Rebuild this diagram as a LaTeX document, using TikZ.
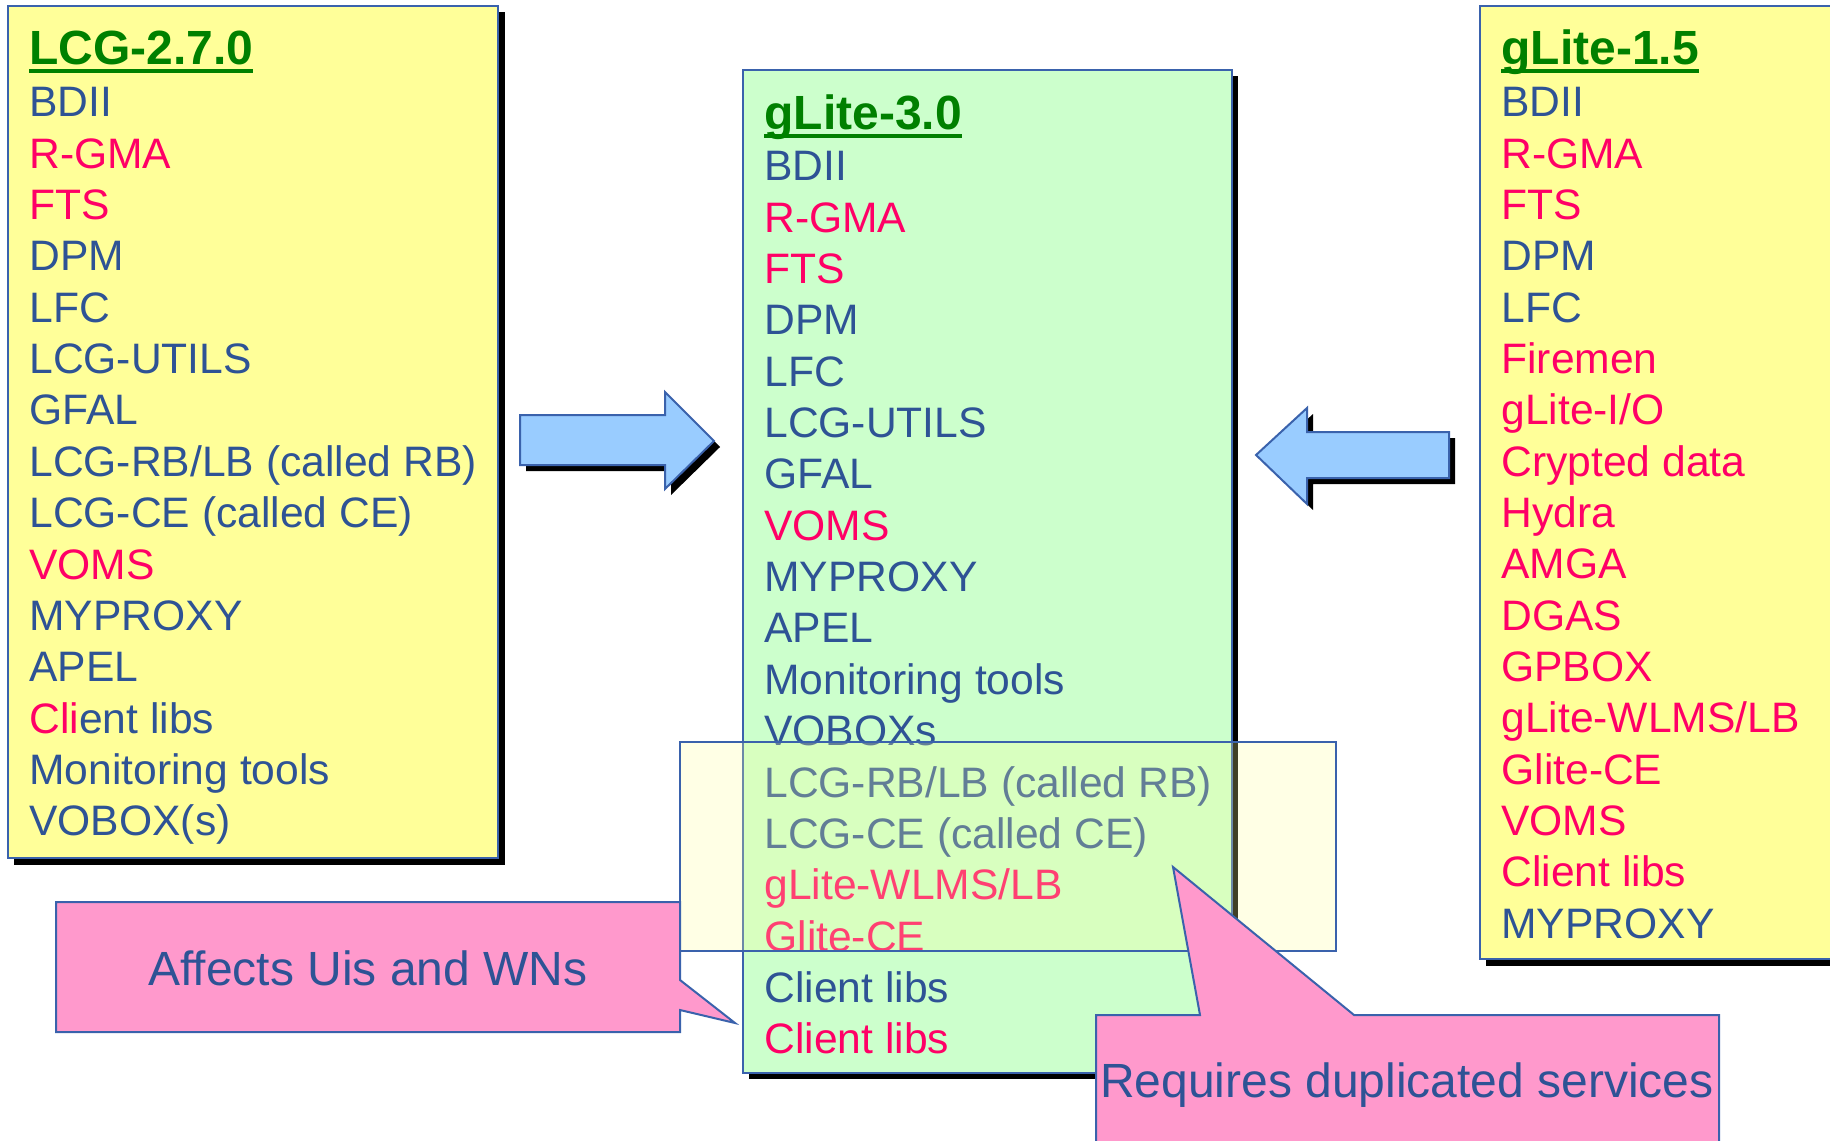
\documentclass[tikz,border=0pt]{standalone}
\usepackage{fontspec}
\setmainfont{Liberation Sans}
\usepackage{xcolor}
\usepackage{tikz}
\definecolor{boxyellow}{HTML}{FFFF99}
\definecolor{boxgreen}{HTML}{CCFFCC}
\definecolor{srvblue}{HTML}{2E5395}
\definecolor{srvred}{HTML}{FF0066}
\definecolor{ttlgreen}{HTML}{008000}
\definecolor{edgeblue}{HTML}{3A62AC}
\definecolor{arrowblue}{HTML}{99CCFF}
\definecolor{notepink}{HTML}{FF99CC}
\newcommand\rd[1]{\textcolor{srvred}{#1}}
\newcommand\ttl[1]{\setbox0\hbox{#1}\rlap{\rule[-4.5pt]{\wd0}{2pt}}\box0}
\tikzstyle{panel}=[draw=edgeblue,line width=1pt]
\tikzstyle{shade}=[fill=black]
\tikzstyle{title}=[anchor=base west,inner sep=0pt,text=ttlgreen,font=\fontsize{24pt}{28pt}\selectfont\bfseries]
% base of a list node = baseline of its last line
\tikzstyle{list}=[anchor=base west,inner sep=0pt,align=left,text=srvblue,font=\fontsize{21.3pt}{25.67pt}\selectfont]
\tikzstyle{fat}=[draw=edgeblue,line width=1pt,fill=arrowblue]
\tikzstyle{note}=[draw=edgeblue,line width=1pt,fill=notepink]
\tikzstyle{notetext}=[inner sep=0pt,text=srvblue,font=\fontsize{24pt}{28pt}\selectfont]

\begin{document}
\begin{tikzpicture}[x=0.5pt,y=-0.5pt]
	\clip (0,0) rectangle (1830,1140);
	% the three releases
	\fill[shade] (14,12) rectangle (505,865);
	\draw[panel,fill=boxyellow] (8,6) rectangle (498,858);
	\fill[shade] (1486,12) rectangle (1840,966);
	\draw[panel,fill=boxyellow] (1480,6) rectangle (1840,959);
	\node[title] (lcgt) at (29,64) {\ttl{LCG-2.7.0}};
	\node[list] (lcg) at (29,835.7) {BDII\\ \rd{R-GMA}\\ \rd{FTS}\\ DPM\\ LFC\\ LCG-UTILS\\ GFAL\\
		LCG-RB/LB (called RB)\\ LCG-CE (called CE)\\ \rd{VOMS}\\ MYPROXY\\ APEL\\
		\rd{Cli}ent libs\\ Monitoring tools\\ VOBOX(s)};
	\node[title] (g15t) at (1501,64) {\ttl{gLite-1.5}};
	\node[list] (g15) at (1501,938.3) {BDII\\ \rd{R-GMA}\\ \rd{FTS}\\ DPM\\ LFC\\ \rd{Firemen}\\
		\rd{gLite-I/O}\\ \rd{Crypted data}\\ \rd{Hydra}\\ \rd{AMGA}\\ \rd{DGAS}\\ \rd{GPBOX}\\
		\rd{gLite-WLMS/LB}\\ \rd{Glite-CE}\\ \rd{VOMS}\\ \rd{Client libs}\\ MYPROXY};
	% arrows
	\fill[shade] (526,421) -- (671,421) -- (671,398) -- (720,447) -- (671,495) -- (671,471) -- (526,471) -- cycle;
	\draw[fat] (520,415) -- (665,415) -- (665,392) -- (714,441) -- (665,489) -- (665,465) -- (520,465) -- cycle;
	\fill[shade] (1262,461) -- (1313,414) -- (1313,438) -- (1455,438) -- (1455,484) -- (1313,484) -- (1313,510) -- cycle;
	\draw[fat] (1256,455) -- (1307,408) -- (1307,432) -- (1449,432) -- (1449,478) -- (1307,478) -- (1307,504) -- cycle;
	% merged release
	\fill[shade] (749,76) rectangle (1238,1079);
	\draw[panel,fill=boxgreen] (743,70) rectangle (1232,1073);
	\node[title] (g30t) at (764,129) {\ttl{gLite-3.0}};
	\node[list] (g30) at (764,1053.7) {BDII\\ \rd{R-GMA}\\ \rd{FTS}\\ DPM\\ LFC\\ LCG-UTILS\\ GFAL\\
		\rd{VOMS}\\ MYPROXY\\ APEL\\ Monitoring tools\\ VOBOXs\\ LCG-RB/LB (called RB)\\
		LCG-CE (called CE)\\ \rd{gLite-WLMS/LB}\\ \rd{Glite-CE}\\ Client libs\\ \rd{Client libs}};
	\draw[panel,fill=boxyellow,fill opacity=0.25] (680,742) rectangle (1336,951);
	% callouts
	\draw[note] (56,902) -- (680,902) -- (680,980) -- (735,1023) -- (680,1010) -- (680,1032) -- (56,1032) -- cycle;
	\node[notetext] (ui) at (368,968) {Affects Uis and WNs};
	\draw[note] (1096,1015) -- (1200,1015) -- (1173,867) -- (1354,1015) -- (1719,1015) -- (1719,1160) -- (1096,1160) -- cycle;
	\node[notetext] (dup) at (1407,1085) {Requires duplicated services};
\end{tikzpicture}
\end{document}
